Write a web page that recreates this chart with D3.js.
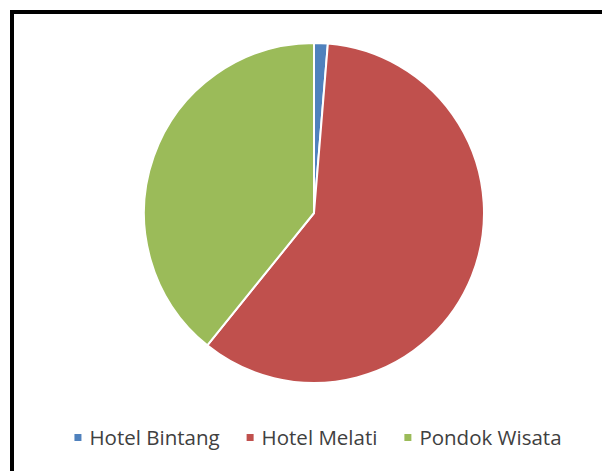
<!DOCTYPE html>
<html>
<head>
<meta charset="utf-8">
<script src="https://cdn.jsdelivr.net/npm/d3@7"></script>
<style>
  body { margin: 0; background: #fff; }
  svg { display: block; }
</style>
</head>
<body>
<svg id="chart" width="602" height="471"></svg>
<script>
// Slice data (share of total)
const categories = ['Hotel Bintang', 'Hotel Melati', 'Pondok Wisata'];
const values = [1.3, 59.5, 39.2];
const colors = ['#4f81bd', '#c0504d', '#9bbb59'];

const svg = d3.select('#chart');
const W = 602, H = 471;

// Frame: only top and left edges visible in the crop
svg.append('rect')
  .attr('x', 12).attr('y', 12)
  .attr('width', W + 20).attr('height', H + 20)
  .attr('fill', '#fff')
  .attr('stroke', '#000')
  .attr('stroke-width', 4);

const cx = 314, cy = 213, r = 170;

const pie = d3.pie().sort(null).value(d => d.value);
const arc = d3.arc().innerRadius(0).outerRadius(r);
const data = categories.map((c, i) => ({ name: c, value: values[i], color: colors[i] }));

svg.append('g')
  .attr('transform', `translate(${cx},${cy})`)
  .selectAll('path')
  .data(pie(data))
  .join('path')
  .attr('d', arc)
  .attr('fill', d => d.data.color)
  .attr('stroke', '#fff')
  .attr('stroke-width', 2)
  .attr('stroke-linejoin', 'round');

// Legend centered under the pie
const legend = svg.append('g').attr('font-family', '"Open Sans", sans-serif')
  .attr('font-size', 20.5).attr('fill', '#404040');
const items = legend.selectAll('g').data(data).join('g');
items.append('rect')
  .attr('width', 7).attr('height', 7).attr('y', -11)
  .attr('fill', d => d.color);
items.append('text')
  .attr('x', 15)
  .text(d => d.name);

const gap = 27;
let widths = [];
items.each(function() { widths.push(this.getBBox().width); });
const total = d3.sum(widths) + gap * (widths.length - 1);
let x = 318 - total / 2;
items.attr('transform', (d, i) => {
  const t = `translate(${x},445)`;
  x += widths[i] + gap;
  return t;
});
</script>
</body>
</html>
